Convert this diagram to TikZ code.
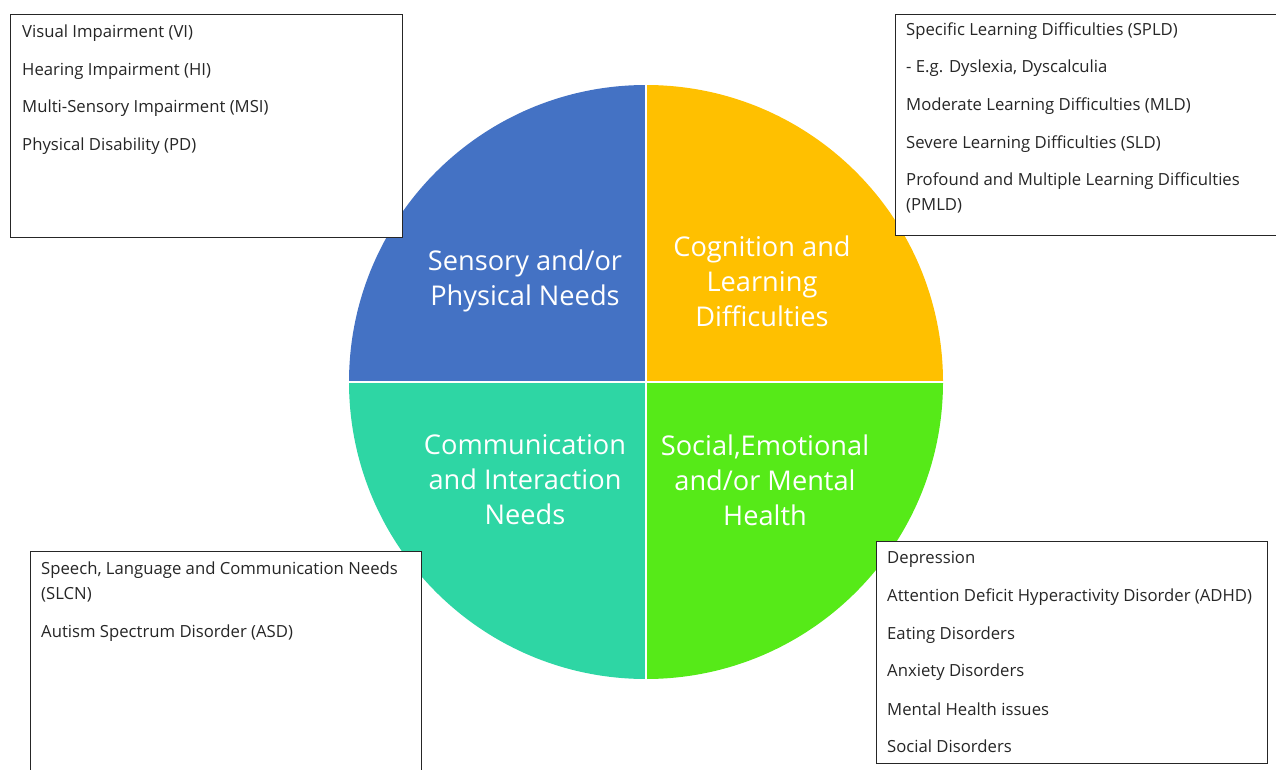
\documentclass[tikz,border=0pt]{standalone}
\usepackage{fontspec}
\setmainfont{Open Sans}
\begin{document}
\begin{tikzpicture}[x=1pt,y=-1pt,
  box/.style={draw=black!85,line width=1.3pt,fill=white,anchor=north west,inner sep=0pt},
  item/.style={anchor=west,inner sep=0pt,yshift=-2pt,font=\fontsize{16.7}{25}\selectfont,text=black!85},
  lab/.style={align=center,text=white,inner sep=0pt,font=\fontsize{27.2}{35}\selectfont}]
\definecolor{qblue}{HTML}{4472C4}
\definecolor{qorange}{HTML}{FFC000}
\definecolor{qteal}{HTML}{2ED6A4}
\definecolor{qgreen}{HTML}{56EA18}
\useasboundingbox (0,0) rectangle (1276,770);
\coordinate (c) at (646,382);
\fill[qblue] (c) -- ++(-297,0) arc[start angle=180,end angle=270,radius=297] -- cycle;
\fill[qorange] (c) -- ++(0,-297) arc[start angle=270,end angle=360,radius=297] -- cycle;
\fill[qgreen] (c) -- ++(297,0) arc[start angle=0,end angle=90,radius=297] -- cycle;
\fill[qteal] (c) -- ++(0,297) arc[start angle=90,end angle=180,radius=297] -- cycle;
\draw[white,line width=2.5pt] (646,84) -- (646,680) (348,382) -- (944,382);
\node[lab] (qTL) at (525,281) {Sensory and/or\\Physical Needs};
\node[lab] (qTR) at (762,281) {Cognition and\\Learning\\Difficulties};
\node[lab] (qBL) at (525,480) {Communication\\and Interaction\\Needs};
\node[lab] (qBR) at (765,480) {Social,Emotional\\and/or Mental\\Health};
% boxes
\node[box,minimum width=392pt,minimum height=223pt] (bTL) at (10,14) {};
\node[box,minimum width=390pt,minimum height=221pt] (bTR) at (895,14) {};
\node[box,minimum width=391pt,minimum height=225pt] (bBL) at (30,551) {};
\node[box,minimum width=391pt,minimum height=222pt] (bBR) at (876,541) {};
% top-left texts
\node[item] (a1) at (22,31) {Visual Impairment (VI)};
\node[item] (a2) at (22,69) {Hearing Impairment (HI)};
\node[item] (a3) at (22,106) {Multi-Sensory Impairment (MSI)};
\node[item] (a4) at (22,144) {Physical Disability (PD)};
% top-right texts
\node[item] (b1) at (906,29) {Specific Learning Difficulties (SPLD)};
\node[item] (b2) at (906,66) {- E.g. Dyslexia, Dyscalculia};
\node[item] (b3) at (906,104) {Moderate Learning Difficulties (MLD)};
\node[item] (b4) at (906,142) {Severe Learning Difficulties (SLD)};
\node[item] (b5) at (906,179) {Profound and Multiple Learning Difficulties};
\node[item] (b6) at (906,204) {(PMLD)};
% bottom-left texts
\node[item] (c1) at (41,568) {Speech, Language and Communication Needs};
\node[item] (c2) at (41,593) {(SLCN)};
\node[item] (c3) at (41,631) {Autism Spectrum Disorder (ASD)};
% bottom-right texts
\node[item] (d1) at (887,557) {Depression};
\node[item] (d2) at (887,595) {Attention Deficit Hyperactivity Disorder (ADHD)};
\node[item] (d3) at (887,633) {Eating Disorders};
\node[item] (d4) at (887,670) {Anxiety Disorders};
\node[item] (d5) at (887,707) {Mental Health issues};
\node[item] (d6) at (887,744) {Social Disorders};
\end{tikzpicture}
\end{document}
